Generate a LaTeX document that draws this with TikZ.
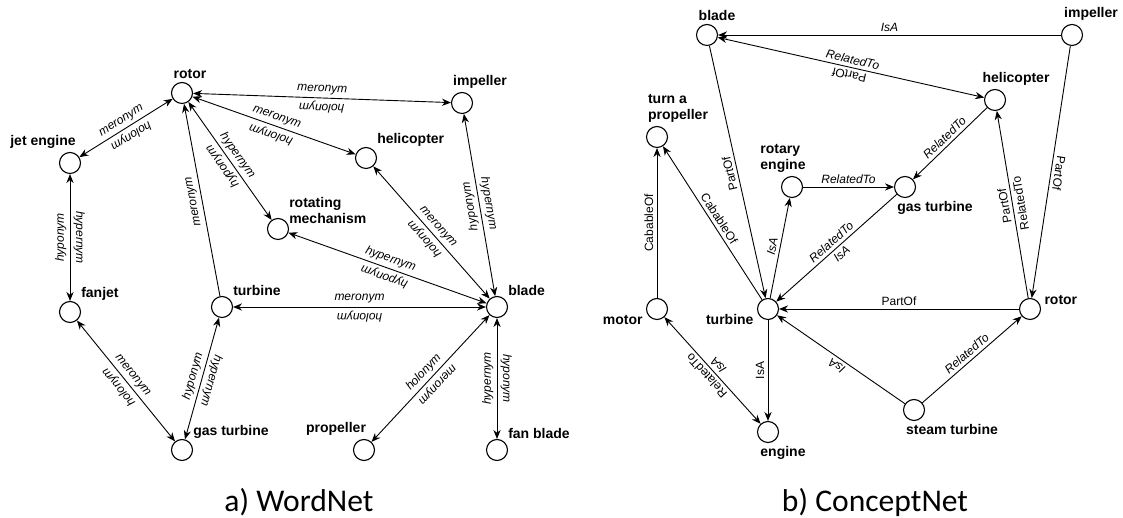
\documentclass[tikz,border=0pt]{standalone}
\usepackage{fontspec}
\setsansfont{Liberation Sans}
\newfontfamily\capfont{Carlito}
\usetikzlibrary{arrows.meta}

\begin{document}
\begin{tikzpicture}[x=5pt,y=5pt,>={Stealth[length=4.5pt,width=3.6pt]},line width=0.45pt,
  every label/.style={font=\sffamily\bfseries\fontsize{7}{8}\selectfont,align=left,inner sep=1.5pt},
  pt/.style={circle,draw,fill=white,minimum size=10.5pt,inner sep=0pt,line width=0.55pt},
  lb/.style={sloped,allow upside down,font=\sffamily\itshape\fontsize{6}{7}\selectfont,inner sep=1.6pt},
  ln/.style={lb,font=\sffamily\fontsize{6}{7}\selectfont},
  fl/.style={rotate=180},
  captxt/.style={font=\capfont\fontsize{15.8}{18}\selectfont}]
\useasboundingbox (0,0) rectangle (112.3,51.8);
% a) WordNet
\node[pt,label={[xshift=4pt]above:rotor}] (rot) at (18.2,42.5) {};
\node[pt,label={[xshift=-13.5pt]above:jet engine}] (jet) at (7,35.5) {};
\node[pt,label={above right:fanjet}] (fan) at (7,20.6) {};
\node[pt,label={above right:turbine}] (tur) at (22.2,21.1) {};
\node[pt,label={above right:gas turbine}] (gas) at (18.2,6.8) {};
\node[pt,label={[xshift=9pt]above:impeller}] (imp) at (46.2,41.5) {};
\node[pt,label={above right:helicopter}] (hel) at (36.6,36) {};
\node[pt,label={[yshift=-3pt]above right:rotating\\mechanism}] (rm) at (27.8,28.9) {};
\node[pt,label={above right:blade}] (bla) at (49.7,21.1) {};
\node[pt,label={[xshift=-14pt]above:propeller}] (pro) at (36.4,6.8) {};
\node[pt,label={above right:fan blade}] (fb) at (49.7,6.8) {};
\draw[<->] (jet) -- node[lb,above]{meronym} node[lb,fl,above]{holonym} (rot);
\draw[<->] (rot) -- node[lb,above]{meronym} node[lb,fl,above]{holonym} (imp);
\draw[<->] (rot) -- node[lb,above]{meronym} node[lb,fl,above]{holonym} (hel);
\draw[<->] (rot) -- node[lb,above]{hypernym} node[lb,fl,above]{hyponym} (rm);
\draw[->] (tur) -- node[lb,above]{meronym} (rot);
\draw[<->] (fan) -- node[lb,above]{hyponym} node[lb,fl,above]{hypernym} (jet);
\draw[<->] (fan) -- node[lb,above]{meronym} node[lb,fl,above]{holonym} (gas);
\draw[<->] (gas) -- node[lb,above]{hyponym} node[lb,fl,above]{hypernym} (tur);
\draw[<->] (tur) -- node[lb,above]{meronym} node[lb,fl,above]{holonym} (bla);
\draw[<->] (rm) -- node[lb,above]{hypernym} node[lb,fl,above]{hyponym} (bla);
\draw[<->] (hel) -- node[lb,above]{meronym} node[lb,fl,above]{holonym} (bla);
\draw[<->] (imp) -- node[lb,above]{hypernym} node[lb,fl,above]{hyponym} (bla);
\draw[<->] (pro) -- node[lb,above]{holonym} node[lb,fl,above]{meronym} (bla);
\draw[<->] (fb) -- node[lb,above]{hypernym} node[lb,fl,above]{hyponym} (bla);
% b) ConceptNet
\node[pt,label={[xshift=5pt]above:blade}] (b2) at (70.7,48.3) {};
\node[pt,label={[xshift=9.5pt]above:impeller}] (i2) at (107.2,48.3) {};
\node[pt,label={[xshift=10.5pt]above:helicopter}] (h2) at (99.5,41.8) {};
\node[pt,label={[xshift=10.5pt]above:turn a\\propeller}] (tap) at (65.7,38.1) {};
\node[pt,label={[xshift=-4.5pt]above:rotary\\engine}] (re) at (79.2,33.1) {};
\node[pt,label={[xshift=15pt]below:gas turbine}] (g2) at (90.5,33.1) {};
\node[pt,label={[yshift=-5.5pt]left:turbine}] (t2) at (76.8,20.9) {};
\node[pt,label={[yshift=-5.5pt]left:motor}] (mot) at (65.7,20.9) {};
\node[pt,label={[xshift=7.5pt]below:engine}] (eng) at (76.8,8.6) {};
\node[pt,label={[yshift=4.5pt]right:rotor}] (r2) at (103,20.9) {};
\node[pt,label={[xshift=19pt]below:steam turbine}] (st) at (91.4,10.8) {};
\draw[<-] (b2) -- node[lb,above]{IsA} (i2);
\draw[<->] (b2) -- node[lb,above]{RelatedTo} node[ln,fl,above]{PartOf} (h2);
\draw[<-] (t2) -- node[ln,above]{PartOf} (b2);
\draw[->] (i2) -- node[ln,above]{PartOf} (r2);
\draw[->] (r2) -- node[ln,above]{PartOf} node[ln,below]{RelatedTo} (h2);
\draw[<-] (g2) -- node[lb,above]{RelatedTo} (h2);
\draw[->] (re) -- node[lb,above]{RelatedTo} (g2);
\draw[->] (t2) -- node[lb,above]{IsA} (re);
\draw[<-] (t2) -- node[lb,above]{RelatedTo} node[lb,below]{IsA} (g2);
\draw[<-] (tap) -- node[ln,above]{CabableOf} (t2);
\draw[->] (mot) -- node[ln,above]{CabableOf} (tap);
\draw[<-] (t2) -- node[ln,above]{PartOf} (r2);
\draw[->] (st) -- node[lb,above]{IsA} (t2);
\draw[->] (st) -- node[lb,above]{RelatedTo} (r2);
\draw[<-] (eng) -- node[ln,above]{IsA} (t2);
\draw[<->] (eng) -- node[ln,above]{RelatedTo} node[lb,below]{IsA} (mot);
% captions
\node[captxt] (capa) at (29.9,1.6) {a) WordNet};
\node[captxt] (capb) at (87.5,1.6) {b) ConceptNet};
\end{tikzpicture}
\end{document}
